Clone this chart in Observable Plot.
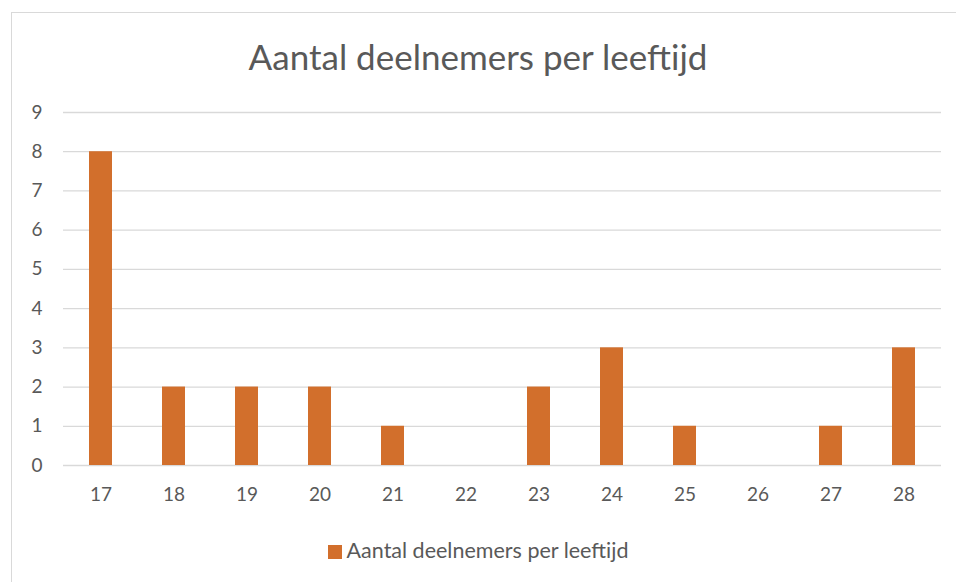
<!DOCTYPE html>
<html>
<head>
<meta charset="utf-8">
<script src="https://cdn.jsdelivr.net/npm/d3@7"></script>
<script src="https://cdn.jsdelivr.net/npm/@observablehq/plot@0.6"></script>
<style>
  html, body { margin: 0; padding: 0; background: #fff; width: 956px; height: 582px; overflow: hidden; }
  body { position: relative; font-family: Lato, "Open Sans", sans-serif; color: #595959; }
  #frame { position: absolute; left: 11px; top: 12px; width: 950px; height: 580px; border-left: 1px solid #d9d9d9; border-top: 1px solid #d9d9d9; z-index: 2; pointer-events: none; }
  #title { position: absolute; left: 0; width: 956px; top: 34px; text-align: center; font-size: 35px; line-height: 44px; color: #595959; }
  #chart { position: absolute; left: 0; top: 90px; }
  #legend { position: absolute; left: 0; width: 956px; top: 537px; text-align: center; font-size: 21.5px; line-height: 26px; color: #595959; }
  #legend .sw { display: inline-block; width: 14px; height: 14px; background: #D26F2C; margin-right: 5px; vertical-align: -1px; }
</style>
</head>
<body>
<div id="frame"></div>
<div id="title">Aantal deelnemers per leeftijd</div>
<div id="chart"></div>
<div id="legend"><span class="sw"></span>Aantal deelnemers per leeftijd</div>
<script>
const ages = ["17","18","19","20","21","22","23","24","25","26","27","28"];
const counts = [8, 2, 2, 2, 1, 0, 2, 3, 1, 0, 1, 3];
const yTicks = [0,1,2,3,4,5,6,7,8,9];
const seriesName = "Aantal deelnemers per leeftijd";

const data = ages.map((a, i) => ({age: a, count: counts[i]}));

const plot = Plot.plot({
  width: 956,
  height: 430,
  marginTop: 22,
  marginBottom: 55,
  marginLeft: 63,
  marginRight: 15,
  style: { fontFamily: "Lato, 'Open Sans', sans-serif", fontSize: "19px", color: "#595959", background: "transparent" },
  x: { type: "band", domain: ages, paddingInner: 0.686, paddingOuter: 0.343, label: null },
  y: { domain: [0, 9], label: null },
  marks: [
    Plot.ruleY(yTicks, { stroke: "#d9d9d9", strokeWidth: 1.3 }),
    Plot.barY(data, { x: "age", y: "count", fill: "#D26F2C", title: d => `${seriesName}: ${d.count}` }),
    Plot.axisY(yTicks, { tickSize: 0, tickPadding: 21, fill: "#595959", fontSize: 19 }),
    Plot.axisX({ tickSize: 0, tickPadding: 22, fill: "#595959", fontSize: 19 })
  ]
});
document.getElementById("chart").appendChild(plot);
</script>
</body>
</html>
